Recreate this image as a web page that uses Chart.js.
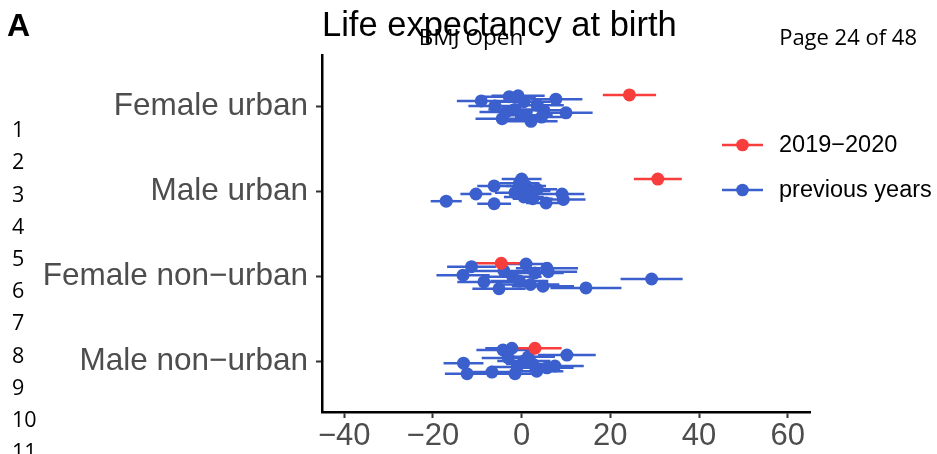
<!DOCTYPE html>
<html>
<head>
<meta charset="utf-8">
<title>Life expectancy at birth</title>
<script src="https://cdn.jsdelivr.net/npm/chart.js@4.4.1/dist/chart.umd.min.js"></script>
<style>
  html, body { margin: 0; padding: 0; background: #fff; }
  #wrap { position: relative; width: 937px; height: 454px; }
</style>
</head>
<body>
<div id="wrap"><canvas id="lifeChart"></canvas></div>
<script>
// groups on the y axis, top to bottom
const categories = ["Female urban", "Male urban", "Female non\u2212urban", "Male non\u2212urban"];
const periodLabels = ["2019\u22122020", "previous years"];
const xTicks = [-40, -20, 0, 20, 40, 60];
const lineNumbers = ["1", "2", "3", "4", "5", "6", "7", "8", "9", "10", "11"];

// 2019-2020 estimates (group index, value, half width of interval, vertical dodge)
const recentCategory = [1, 2, 3, 4];
const recentValues = [24.3, 30.7, -4.6, 3.0];
const recentErrors = [6.0, 5.4, 6.6, 6.0];
const recentJitter = [-0.13, -0.14, -0.15, -0.15];

// previous years
const previousCategory = [
  1, 1, 1, 1, 1, 1, 1, 1, 1, 1, 1, 1, 1, 1, 1,
  2, 2, 2, 2, 2, 2, 2, 2, 2, 2, 2, 2, 2, 2, 2,
  3, 3, 3, 3, 3, 3, 3, 3, 3, 3, 3, 3, 3, 3, 3,
  4, 4, 4, 4, 4, 4, 4, 4, 4, 4, 4, 4, 4, 4, 4
];
const previousValues = [
  -9.1, -2.8, -0.8, 7.7, 10.0, -4.4, 2.1, 3.5, -1.5, 1.0, -3.5, 5.0, -6.0, 0.5, 4.5,
  -17.0, -10.3, -6.2, -6.2, 0.0, 5.5, 9.1, 9.4, -0.5, 1.0, 2.0, 0.5, 3.5, -1.5, 2.5,
  -11.3, 1.0, 5.7, -13.2, 29.3, 14.5, -5.1, 4.8, -8.5, -2.0, 3.0, -0.5, 2.0, 6.0, -4.0,
  -2.2, -4.2, 10.2, -13.1, -12.3, -6.7, -1.5, 3.4, 7.5, 5.7, -3.0, 0.5, 2.5, -1.0, 1.5
];
const previousErrors = [
  5.5, 6.0, 6.0, 6.0, 6.0, 6.0, 6.0, 6.0, 6.0, 6.0, 6.0, 6.0, 6.0, 6.0, 6.0,
  3.5, 3.5, 3.8, 3.8, 4.5, 4.5, 5.0, 5.0, 4.5, 4.5, 4.5, 4.5, 4.5, 4.5, 4.5,
  5.5, 5.5, 7.0, 6.0, 7.0, 8.0, 6.0, 7.0, 6.0, 6.5, 6.5, 6.5, 6.5, 6.5, 6.5,
  6.0, 6.0, 6.5, 4.5, 5.0, 6.0, 6.0, 6.0, 6.5, 6.0, 6.0, 6.0, 6.0, 6.0, 6.0
];
const previousJitter = [
  -0.06, -0.11, -0.12, -0.08, 0.08, 0.15, 0.18, -0.01, 0.04, 0.11, 0.07, 0.05, 0.0, -0.05, 0.13,
  0.12, 0.035, -0.06, 0.15, -0.14, 0.14, 0.035, 0.1, -0.09, -0.06, 0.0, 0.07, -0.02, 0.02, 0.09,
  -0.11, -0.14, -0.09, -0.01, 0.035, 0.14, 0.15, 0.12, 0.07, 0.01, -0.035, 0.06, 0.1, -0.05, -0.06,
  -0.15, -0.13, -0.07, 0.025, 0.15, 0.13, 0.15, 0.12, 0.06, 0.08, -0.035, 0.0, 0.035, 0.07, -0.05
];

const RED = "#f83d3d";
const BLUE = "#3b5fcd";
const AXIS_FONT = "'Liberation Sans', Arial, sans-serif";
const PAGE_FONT = "'Open Sans', 'Noto Sans', sans-serif";

function buildPoints(cats, values, errors, jitter) {
  return values.map((v, i) => ({
    x: v,
    y: cats[i] + jitter[i],
    xMin: v - errors[i],
    xMax: v + errors[i]
  }));
}

// horizontal interval lines, drawn beneath the points
const errorBars = {
  id: "errorBars",
  beforeDatasetsDraw(chart) {
    const { ctx, scales: { x, y } } = chart;
    [1, 0].forEach(i => {
      const ds = chart.data.datasets[i];
      ctx.save();
      ctx.strokeStyle = ds.backgroundColor;
      ctx.lineWidth = 2.5;
      ds.data.forEach(p => {
        const py = y.getPixelForValue(p.y);
        ctx.beginPath();
        ctx.moveTo(x.getPixelForValue(p.xMin), py);
        ctx.lineTo(x.getPixelForValue(p.xMax), py);
        ctx.stroke();
      });
      ctx.restore();
    });
  }
};

// title, page furniture and the legend
const decorations = {
  id: "decorations",
  afterDraw(chart) {
    const ctx = chart.ctx;
    ctx.save();
    ctx.textBaseline = "alphabetic";

    ctx.fillStyle = "#000";
    ctx.font = "bold 32px " + AXIS_FONT;
    ctx.textAlign = "left";
    ctx.fillText("A", 7, 36);

    ctx.font = "34.5px " + AXIS_FONT;
    ctx.fillText("Life expectancy at birth", chart.chartArea.left, 36);

    ctx.font = "22.5px " + PAGE_FONT;
    ctx.textAlign = "center";
    ctx.fillText("BMJ Open", 471, 45);

    ctx.font = "22px " + PAGE_FONT;
    ctx.textAlign = "right";
    ctx.fillText("Page 24 of 48", 917, 45);

    ctx.font = "21.5px " + PAGE_FONT;
    ctx.textAlign = "left";
    ctx.textBaseline = "middle";
    lineNumbers.forEach((n, i) => ctx.fillText(n, 12, 131 + i * 32.2));

    // legend
    const colors = [RED, BLUE];
    ctx.font = "23.5px " + AXIS_FONT;
    periodLabels.forEach((label, i) => {
      const ly = 145 + i * 45;
      ctx.strokeStyle = colors[i];
      ctx.fillStyle = colors[i];
      ctx.lineWidth = 2.5;
      ctx.beginPath();
      ctx.moveTo(722, ly);
      ctx.lineTo(763, ly);
      ctx.stroke();
      ctx.beginPath();
      ctx.arc(742.5, ly, 6.3, 0, Math.PI * 2);
      ctx.fill();
      ctx.fillStyle = "#000";
      ctx.fillText(label, 779, ly + 1);
    });
    ctx.restore();
  }
};

const chart = new Chart(document.getElementById("lifeChart"), {
  type: "scatter",
  data: {
    datasets: [
      {
        label: periodLabels[0],
        data: buildPoints(recentCategory, recentValues, recentErrors, recentJitter),
        backgroundColor: RED,
        borderWidth: 0,
        pointRadius: 6.5,
        pointHoverRadius: 6.5
      },
      {
        label: periodLabels[1],
        data: buildPoints(previousCategory, previousValues, previousErrors, previousJitter),
        backgroundColor: BLUE,
        borderWidth: 0,
        pointRadius: 6.5,
        pointHoverRadius: 6.5
      }
    ]
  },
  options: {
    responsive: true,
    maintainAspectRatio: false,
    animation: false,
    layout: { padding: { left: 0, top: 55, right: 127, bottom: 0 } },
    plugins: {
      legend: { display: false },
      tooltip: { enabled: false }
    },
    scales: {
      x: {
        type: "linear",
        min: -45,
        max: 65,
        afterBuildTicks: s => { s.ticks = xTicks.map(v => ({ value: v })); },
        afterFit: s => { s.height = 42; },
        ticks: {
          font: { family: AXIS_FONT, size: 31 },
          color: "#4d4d4d",
          padding: 0,
          maxRotation: 0,
          callback: v => String(v).replace("-", "\u2212")
        },
        grid: { drawOnChartArea: false, tickLength: 6, tickColor: "#333", tickWidth: 2 },
        border: { color: "#000", width: 2.5 }
      },
      y: {
        type: "linear",
        min: 0.4,
        max: 4.6,
        reverse: true,
        afterBuildTicks: s => { s.ticks = categories.map((c, i) => ({ value: i + 1 })); },
        afterFit: s => { s.width = 322; },
        ticks: {
          font: { family: AXIS_FONT, size: 31.5 },
          color: "#4d4d4d",
          padding: 8,
          callback: v => categories[v - 1]
        },
        grid: { drawOnChartArea: false, tickLength: 6, tickColor: "#333", tickWidth: 2 },
        border: { color: "#000", width: 2.5 }
      }
    }
  },
  plugins: [errorBars, decorations]
});
</script>
</body>
</html>
